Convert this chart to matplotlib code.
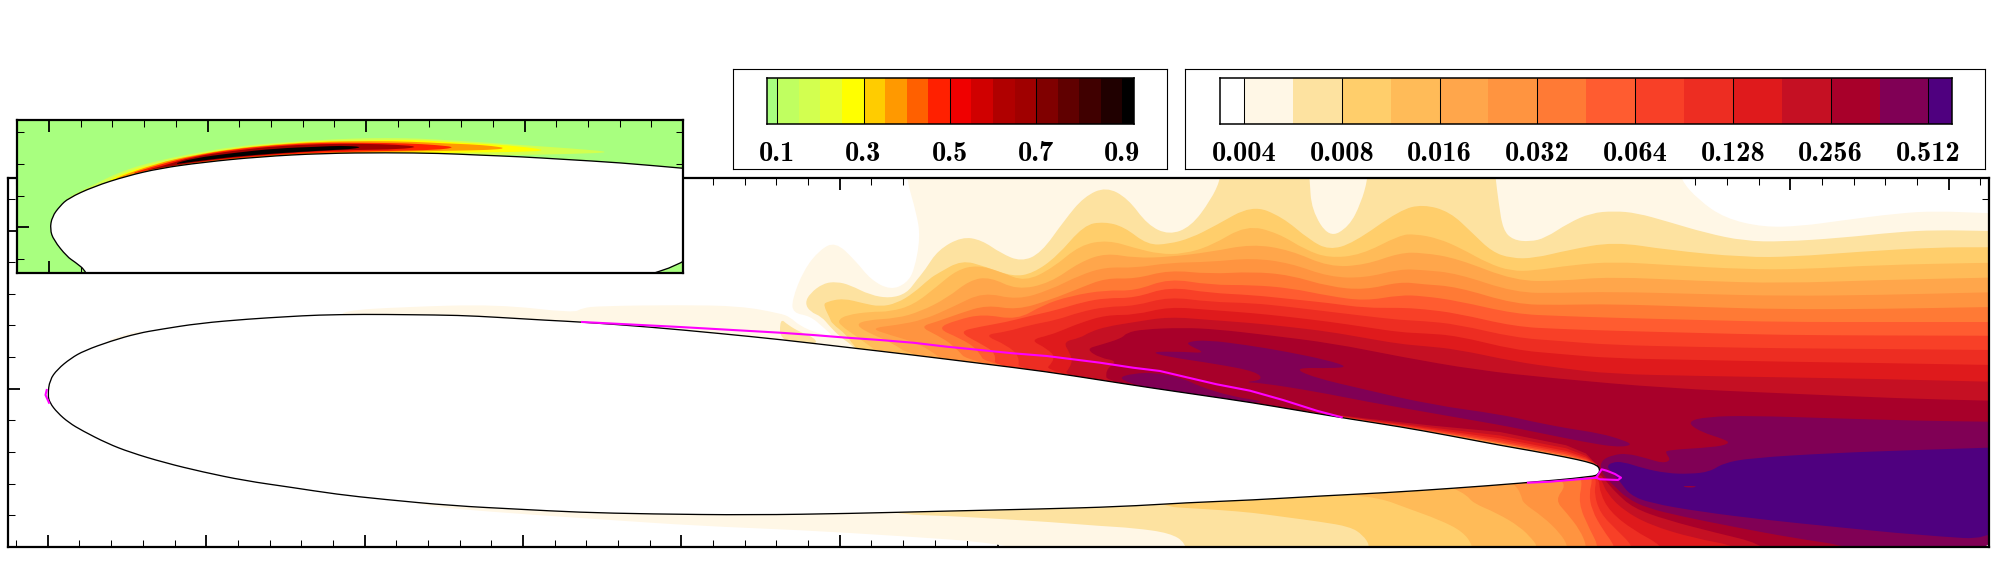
import numpy as np
import matplotlib
matplotlib.use("Agg")
import matplotlib.pyplot as plt
from matplotlib.path import Path
from matplotlib.patches import PathPatch

# ---------- colours and colour-bar data ----------
colorbar_left_edges = [0.075, 0.1, 0.15, 0.2, 0.25, 0.3, 0.35, 0.4, 0.45, 0.5, 0.55, 0.6, 0.65, 0.7, 0.75, 0.8, 0.85, 0.9, 0.927]
colorbar_left_colors = ['#A8FF7F', '#C0FF60', '#D2FF50', '#E8FF30', '#FFFF00', '#FFCC00', '#FF9900', '#FF6000', '#FF2000',
                        '#F00000', '#D00000', '#B00000', '#A00000', '#800000', '#600000', '#400000', '#200000', '#000000']
colorbar_left_ticks = [0.1, 0.3, 0.5, 0.7, 0.9]
colorbar_left_labels = ['0.1', '0.3', '0.5', '0.7', '0.9']

colorbar_right_edges = [0.00338, 0.004, 0.00566, 0.008, 0.0113, 0.016, 0.0226, 0.032, 0.0453, 0.064, 0.0905, 0.128, 0.181, 0.256, 0.362, 0.512, 0.605]
colorbar_right_colors = ['#FFFFFF', '#FFF7E6', '#FDE2A0', '#FFCE6B', '#FFBB58', '#FFA64B', '#FF9440', '#FF7A35', '#FF5C30',
                         '#F84027', '#ED2D22', '#DF1A1C', '#C51023', '#A8002A', '#800055', '#4F007F']
colorbar_right_ticks = [0.004, 0.008, 0.016, 0.032, 0.064, 0.128, 0.256, 0.512]
colorbar_right_labels = ['0.004', '0.008', '0.016', '0.032', '0.064', '0.128', '0.256', '0.512']

# ---------- aerofoil outline and sonic line ----------
airfoil = [(47.8, 395), (49.7, 380), (57.4, 369.3), (70.8, 358.3), (84.2, 350.7), (111, 341), (137.8, 333.3), (160.7, 329.3),
           (199, 323.3), (248.8, 319), (287, 316.7), (317.6, 315), (363.6, 314.3), (409.5, 314.7), (459, 315.3), (497.5, 317.3),
           (547, 320.3), (581.7, 322), (650, 327), (720, 333.5), (780, 339.5), (846.7, 347.3), (913, 355), (980, 363.3),
           (1046.7, 371.7), (1100, 380), (1150, 387.7), (1200, 395), (1250, 402.3), (1300, 410.7), (1350, 419), (1400, 426.7),
           (1450, 435.7), (1500, 445.3), (1533, 451), (1566.7, 457.3), (1586.7, 461.7), (1596.7, 465), (1600, 469.3), (1598.7, 474),
           (1593, 476.7), (1520, 483.3), (1453, 488.3), (1386.7, 492.7), (1320, 496), (1253, 500), (1186.7, 502.7), (1120, 506.7),
           (1040, 509), (950, 511), (850, 513.5), (752, 515), (650, 514), (578, 512.3), (520.5, 509.3), (451.6, 505.7), (382.7, 499.3),
           (336.8, 494.3), (291, 487.3), (245, 480.7), (202.8, 472), (164.6, 462.7), (130, 452.3), (107, 443.3), (82.3, 430.7),
           (68.9, 422.7), (57.4, 412.7), (49.7, 402.7)]
sonic_upper = [(582, 322), (680, 327), (780, 332.7), (813, 335), (846.7, 337.7), (880, 340), (913, 342.7), (946.7, 346.7), (980, 350),
               (1013, 353.3), (1046.7, 356), (1100, 362.7), (1133, 367.7), (1160, 371), (1186.7, 377.3), (1216.7, 384.3), (1250, 390.7),
               (1283, 400), (1316.7, 410.7), (1341.7, 417.3)]
sonic_nose = [(46.7, 390), (45.5, 395), (49, 402.7)]
sonic_rear = [(1528, 482.7), (1550, 481.7), (1590, 478.3), (1596, 477.7), (1600, 479.3), (1618, 480), (1621, 477.7), (1615, 474),
              (1606.7, 470.7), (1601.7, 469.3), (1599, 473.3), (1596, 477.7)]

# ---------- contour regions, lowest level first ----------
level_01 = [(342, 318), (342.5, 310.7), (402, 307), (497.5, 304.3), (574, 313), (581.7, 308), (600, 306), (680, 305), (740, 306),
            (780, 313.3), (790, 317), (800, 326), (817, 333), (835, 338), (823, 327), (810, 316), (793, 313), (791.9, 300), (803.7, 270),
            (819.5, 250), (835.3, 241.7), (855, 260), (871, 280), (890.7, 290), (906.5, 283.3), (914.4, 270), (920.3, 236.7),
            (916.4, 213), (906.5, 179), (906, 160), (1679, 160), (1680, 179), (1698.5, 200), (1725, 218.3), (1763.6, 227.3),
            (1801.8, 226), (1840, 220.7), (1897.5, 213.3), (1935.8, 211), (1988, 213.3), (2010, 213), (2010, 560), (1060, 560),
            (1000, 543), (900, 536), (800, 530), (700, 526), (600, 519.3), (536, 515), (459, 509.3), (413, 504), (413, 496)]
level_01_island = [(105, 341.7), (122.5, 335), (143.5, 330), (143, 336), (110, 345)]
level_02 = [(858, 352), (851.7, 345), (840, 336.7), (830, 326.7), (821.7, 316.7), (810, 311.7), (805, 303), (810, 293.3), (823.3, 283.3),
            (836.7, 281.7), (850, 285), (870, 295), (890, 298.3), (906.7, 293.3), (916.7, 280), (925, 270), (938, 250), (961.8, 236.7),
            (981.6, 240), (1001, 253.3), (1021, 261.7), (1040.9, 253.3), (1064.6, 220), (1084, 196.7), (1106, 186.7), (1127.8, 198.3),
            (1147.6, 225), (1169, 235), (1191, 226.7), (1210.8, 200), (1220.7, 179), (1222, 160), (1308, 160), (1309.6, 179),
            (1311.6, 210), (1329, 238), (1349, 226.7), (1361, 203), (1367.7, 179), (1369, 160), (1494, 160), (1495.7, 179), (1498.7, 203),
            (1503, 230), (1513, 240), (1530, 241.7), (1545.4, 238), (1568.4, 223), (1591, 213), (1614, 211), (1637, 213), (1668, 221.7),
            (1706, 233), (1744.4, 241), (1782.7, 241.7), (1840, 238), (1897.5, 232), (1935.8, 230), (1988, 231), (2010, 231), (2010, 560),
            (1186, 560), (1186, 543), (1170, 533), (1134, 528), (1100, 526), (1050, 522), (1000, 519), (950, 516), (900, 514.5), (880, 508)]
level_02_island = [(780, 318), (788, 325), (800, 332), (815, 338), (817, 345), (780, 342)]
level_03 = [(862, 353), (853, 345), (846.7, 335), (831.7, 323.3), (830, 318.3), (823.3, 305), (826.7, 301.7), (843.3, 298.3), (863.3, 303.3),
            (880, 306.7), (896.7, 303.3), (913.3, 293.3), (930, 278.3), (938, 273.3), (961.8, 260), (985.5, 266.7), (1013, 276.7),
            (1033, 273.3), (1056.7, 256.7), (1084, 225), (1104, 221.7), (1124, 226.7), (1147.6, 245), (1169, 244), (1191, 238), (1214.8, 226),
            (1252, 205), (1282, 216.7), (1309.6, 240), (1329, 250), (1353, 243.3), (1400, 210), (1423, 204.3), (1449.8, 211.7), (1472.7, 233.3),
            (1491.8, 251.7), (1511, 258.3), (1534, 258.3), (1568.4, 250), (1614.3, 241.7), (1668, 250), (1744.4, 257.3), (1794, 256.7),
            (1859, 251.7), (1935.8, 247.3), (1988, 247.3), (2010, 247), (2010, 560), (1370, 560), (1370, 546), (1363, 535), (1350, 526.7),
            (1320, 521.7), (1286.7, 517.3), (1253, 512.7), (1220, 510), (1186.7, 508), (1170, 507), (1150, 500)]
level_04 = [(880, 354), (873, 348.3), (856.7, 336.7), (840, 325), (838.3, 320), (846.7, 315), (870, 311.7), (890, 311.7), (913.3, 305),
            (936.7, 286.7), (956.7, 270), (977.6, 265), (1001, 272), (1025, 281.7), (1052.7, 268), (1080, 245), (1108, 240), (1135.7, 248.3),
            (1159.4, 254), (1183, 254), (1210.8, 246), (1246.4, 225), (1278, 233), (1305.7, 250), (1329, 258), (1361, 255), (1400, 235),
            (1415, 234), (1438, 238.3), (1461, 248.3), (1488, 263.3), (1511, 271), (1534, 270.7), (1572, 265), (1614, 261.7), (1668, 265),
            (1744, 269.3), (1802, 269.3), (1878, 265), (1988, 262.7), (2010, 262.7), (2010, 560), (1473, 560), (1473, 546), (1463, 531.7),
            (1440, 520), (1406.7, 508), (1380, 498), (1346.7, 495), (1330, 488)]
level_05 = [(915, 358), (890, 341.7), (873, 335), (855, 325), (866.7, 320), (896.7, 318.3), (920, 311.7), (946.7, 298.3), (970, 280),
            (990, 277), (1017, 290), (1050, 283), (1080, 262), (1106, 253), (1135, 258), (1169, 257), (1210, 252), (1252, 244), (1290, 250),
            (1329, 267), (1365, 265), (1400, 252.7), (1423, 252.7), (1457, 258.3), (1515, 281), (1560, 281), (1610.5, 276.7), (1700, 281),
            (1782.7, 283.3), (1880, 280), (1988, 277.7), (2010, 277), (2010, 560), (1537, 560), (1537, 546), (1533, 540), (1520, 526.7),
            (1496.7, 513), (1473, 503), (1466.7, 495), (1453, 488.3), (1440, 480)]
level_06 = [(945, 362), (930, 350), (913, 341.7), (890, 335), (870, 328.3), (896.7, 325), (923.3, 320), (953.3, 306.7), (983.3, 292),
            (1017, 300), (1050, 290), (1080, 275), (1106, 267), (1135, 268), (1169, 262.7), (1210, 262), (1252, 258), (1290, 263), (1329, 277),
            (1365, 278), (1400, 269), (1423, 270), (1457, 273.3), (1515, 292.7), (1560, 293), (1610.5, 291.7), (1700, 294), (1782.7, 296),
            (1880, 295), (1988, 292.3), (2010, 292), (2010, 560), (1568, 560), (1568, 546), (1560, 533), (1543, 516.7), (1523, 503),
            (1521.7, 496.7), (1516.7, 486), (1505, 478)]
level_07 = [(972, 366), (953.3, 345), (936.7, 335), (920, 326.7), (936.7, 321.7), (960, 313.3), (986.7, 305), (1017, 310), (1050, 300),
            (1080, 288), (1106, 278), (1135, 279), (1169, 270), (1210, 274), (1252, 271.7), (1290, 275), (1329, 286.7), (1365, 290), (1400, 281.7),
            (1423, 284.3), (1457, 286.7), (1515, 304.3), (1560, 305), (1610.5, 304), (1700, 307), (1782.7, 309.3), (1880, 309), (1988, 307),
            (2010, 307), (2010, 560), (1586.7, 560), (1586.7, 546), (1580, 530), (1566.7, 513), (1555, 500), (1566.7, 485), (1555, 476)]
level_08 = [(988, 368), (976.7, 348.3), (960, 338.3), (936.7, 328.3), (956.7, 320), (983, 314), (1017, 320), (1043, 305), (1070, 296),
            (1106, 290), (1135, 291), (1169, 278.3), (1210, 285), (1252, 285), (1290, 288), (1329, 296), (1365, 301), (1400, 295), (1423, 296),
            (1457, 300.7), (1515, 314), (1560, 316), (1610.5, 317.7), (1700, 320), (1782.7, 322), (1880, 322), (1988, 322), (2010, 322),
            (2010, 560), (1598, 560), (1598, 545), (1590, 530), (1578, 503), (1583, 480), (1575, 470)]
level_09 = [(993, 370), (996.7, 353.3), (980, 343.3), (958.3, 331.7), (980, 326.7), (1006.7, 322), (1030, 316), (1056.7, 310), (1083, 302),
            (1106, 298), (1135, 298), (1169, 286.7), (1210, 293), (1252, 295), (1290, 299), (1329, 303), (1365, 308), (1400, 307.7), (1423, 309),
            (1457, 313.3), (1515, 326.7), (1560, 329), (1610.5, 330.7), (1700, 333), (1782.7, 335), (1880, 335.5), (1988, 335.7), (2010, 336),
            (2010, 560), (1615, 560), (1615, 546), (1603, 530), (1591.7, 510), (1589, 493), (1593, 478), (1585, 470)]
level_10 = [(1017, 373), (1020, 356.7), (1006.7, 345), (983.3, 335), (1006.7, 331.7), (1030, 325), (1056.7, 320), (1080, 312), (1106, 306.7),
            (1135, 306), (1169, 296.7), (1210, 302), (1252, 303), (1290, 307), (1329, 311.7), (1365, 316), (1400, 320), (1423, 321), (1457, 324.3),
            (1515, 337.7), (1560, 341), (1610.5, 345), (1700, 347), (1782.7, 348.3), (1880, 349), (1988, 350), (2010, 350), (2010, 560),
            (1633, 560), (1633, 546), (1616.7, 530), (1600, 513), (1594, 493), (1596.7, 479), (1590, 470)]
level_11 = [(1040, 375), (1056.7, 358.3), (1046.7, 348.3), (1030, 340), (1050, 335), (1063, 330), (1080, 323), (1106, 315), (1135, 315),
            (1169, 306.7), (1210, 310), (1252, 313), (1290, 317), (1329, 321.7), (1365, 327), (1400, 332.3), (1423, 333.3), (1457, 335.7),
            (1515, 350), (1560, 354), (1610.5, 358.3), (1700, 360), (1782.7, 361.7), (1880, 363), (1988, 365), (2010, 365), (2010, 560),
            (1663, 560), (1663, 546), (1633, 530), (1610, 511.7), (1600, 493), (1599, 479), (1592, 470)]
level_12 = [(1060, 380), (1073, 363.3), (1070, 353.3), (1063, 341.7), (1080, 338), (1090, 332), (1106, 326.7), (1135, 322), (1169, 316.7),
            (1210, 320), (1252, 323), (1290, 327), (1329, 331.7), (1365, 338), (1400, 344), (1423, 346), (1457, 349.3), (1515, 361.7), (1560, 368),
            (1610.5, 374), (1700, 376), (1782.7, 377.3), (1880, 379), (1988, 381.7), (2010, 382), (2010, 560), (1740, 560), (1740, 546.7),
            (1693, 538), (1650, 525), (1623, 510), (1606.7, 493), (1601.7, 480), (1594, 470)]
level_13 = [(1108, 385), (1105, 370), (1118, 361), (1100, 358), (1086, 349), (1100, 345), (1121.7, 338.3), (1126.7, 332.7), (1143, 329.3),
            (1183, 327.7), (1216.7, 329.3), (1266.7, 335), (1333, 343.3), (1400, 356.7), (1476.5, 370), (1553, 378.3), (1668, 388.3),
            (1782.7, 393.3), (1897.5, 398.3), (1988, 400.7), (2010, 401), (2010, 560), (1775, 560), (1760, 543.3), (1716.7, 533),
            (1666.7, 520), (1633, 508), (1615, 491.7), (1606.7, 481.7), (1596, 470)]
level_14_wake = [(1686.7, 421.7), (1706.7, 416.7), (1750, 415.7), (1833, 418.3), (1916.7, 420.7), (1988, 421.7), (2010, 422), (2010, 560),
                 (1853, 560), (1853, 546.7), (1793, 538), (1733, 526.7), (1683, 516.7), (1646.7, 508), (1626.7, 498), (1615, 486.7), (1608, 480),
                 (1600, 470), (1601.7, 460), (1613, 455), (1626.7, 453.3), (1646.7, 458.3), (1663, 463.3), (1671, 460), (1665.7, 453.3),
                 (1666.7, 450), (1713, 447.3), (1729, 444), (1726.7, 440), (1700, 431.7)]
level_14_shear = [(1188, 341.7), (1206.7, 340), (1246.7, 345), (1286.7, 351.7), (1326.7, 360), (1348, 366.7), (1333, 368.3), (1293, 367.7),
                  (1313, 377.3), (1366.7, 390), (1433, 405), (1500, 414.3), (1533, 421.7), (1566.7, 428.3), (1600, 433.3), (1623, 440), (1633, 445),
                  (1616.7, 447.3), (1583, 441.7), (1550, 435), (1516.7, 428.3), (1500, 425), (1433, 413.3), (1366.7, 401.7), (1316.7, 391.7),
                  (1260, 382.7), (1243, 382.3), (1263, 380), (1256.7, 371.7), (1216.7, 364), (1166.7, 356.7), (1150, 351.7), (1183, 351.7),
                  (1206.7, 353.3), (1188, 345)]
level_14_wall = [(1116.7, 378.3), (1133, 373.3), (1156.7, 372.7), (1183, 378.3), (1200, 386.7), (1233, 396.7), (1266.7, 401.7), (1246.7, 403),
                 (1210, 398), (1166.7, 391), (1143, 387)]
level_15 = [(1606.7, 466.7), (1611.7, 462.3), (1623, 461.7), (1643, 468.3), (1666.7, 473.3), (1690, 474), (1710, 471.7), (1723, 463.3),
            (1750, 458), (1833, 453), (1916.7, 450), (1988, 447.7), (2010, 447), (2010, 541), (1916.7, 535), (1833, 526.7), (1766.7, 520),
            (1700, 511.7), (1650, 503), (1630, 495), (1620, 481.7), (1612, 472)]
wake_sliver = [(1681, 486.5), (1690, 486), (1698, 486.7), (1690, 487.7)]

# thin boundary layer on the rear upper surface, outermost first
wall_x = [1300, 1367, 1433, 1500, 1566, 1586, 1597]
wall_C51023 = [410.2, 418.6, 425.7, 432, 445.2, 453.5, 465]
wall_DF1A1C = [410.3, 419.6, 427.7, 435.5, 448.2, 455.8, 465]
wall_ED2D22 = [410.7, 420.1, 429.2, 438.3, 450.9, 457.5, 465]
wall_F84027 = [410.7, 420.6, 430.2, 440.3, 452.5, 458.8, 465]
wall_FF5C30 = [410.7, 420.9, 431.2, 442, 454.2, 459.8, 465]
wall_FF9440 = [410.7, 421.2, 431.9, 443.3, 455.9, 460.8, 465]

# ---------- inset: leading-edge band ----------
inset_surface = [(75, 262), (67, 256.7), (53.6, 240), (50, 229.3), (52, 216.7), (60, 206), (68.3, 198.3), (93.3, 186.7), (126.7, 176), (160, 168.3),
                 (203, 162.3), (260, 156.7), (323, 153.3), (386.7, 152.7), (440, 153.3), (476.7, 155), (520, 156.7), (563, 159.3), (620, 162.7),
                 (683, 168.3), (705, 170), (705, 295), (92, 295), (87, 271.7)]
inset_fringe = [(62, 205), (68.3, 197), (93.3, 185), (120, 171.7), (153.3, 161.7), (193.3, 153.3), (233.3, 146.7), (276.7, 142.7), (320, 140),
                (353, 138.5), (386.7, 138), (420, 138.5), (453, 140.5), (486.7, 142.5), (520, 145), (570, 148.3), (616.7, 152.3), (570, 154),
                (520, 155), (486.7, 155), (440, 155), (386.7, 155), (320, 156), (260, 159), (203, 165), (160, 171), (126.7, 179), (93.3, 190)]
inset_yellow = [(103, 183), (126.7, 171.7), (156.7, 163.3), (193, 155), (233, 148.3), (276.7, 144), (320, 141), (353, 140.7), (386.7, 140),
                (420, 140), (453, 142.3), (486.7, 144), (516.7, 146), (550, 150.5), (516.7, 152), (470, 152.5), (386.7, 154), (320, 155), (260, 158),
                (203, 164), (160, 170), (126.7, 177.5)]
inset_orange = [(110, 180), (156.7, 163.3), (193, 155.3), (233, 148.7), (276.7, 144.3), (320, 141.7), (370, 141), (413, 141.7), (443, 143.3),
                (470, 144.3), (493, 146), (506.7, 148.3), (490, 150), (453, 150.7), (386.7, 152), (320, 154), (260, 157.5), (203, 163), (160, 169),
                (126.7, 176.5)]
inset_red = [(123, 176), (160, 164.3), (193, 156), (233, 149.3), (276.7, 145), (320, 142.7), (363, 142.7), (406.7, 143.3), (436.7, 145), (456.7, 147.3),
             (436.7, 150), (386.7, 151), (320, 152.5), (260, 156), (203, 161.5), (160, 167.5)]
inset_dark = [(143, 170.7), (160, 166.7), (193, 156.7), (233, 150.7), (276.7, 146), (320, 144), (363, 143.7), (396.7, 144.7), (420, 146.7), (400, 149.3),
              (353, 150), (320, 151), (276.7, 154), (233, 157.5), (193, 162.5), (160, 168)]
inset_black = [(170, 165), (193, 158.3), (233, 153), (276.7, 148.3), (320, 146.7), (340, 145.7), (363, 146.7), (353, 149), (333, 150), (320, 150.7),
               (276.7, 153.3), (233, 156.7), (193, 161.7)]
inset_layers = [(inset_fringe, '#D2FF50'), (inset_yellow, '#FFFF00'), (inset_orange, '#FF9900'), (inset_red, '#FF2000'),
                (inset_dark, '#A00000'), (inset_black, '#000000')]

# ---------- axis tick positions (the axes carry no labels) ----------
main_x_major = [47.8 + 158.4 * k for k in range(13)]
main_x_minor = [16.1 + 31.68 * k for k in range(63) if k % 5 != 1]
main_y_major = [230.5, 389]
main_y_minor = [199, 262, 294, 325, 357, 420, 452, 484, 515]
inset_x_major = [49, 207.5, 366, 524.5]
inset_x_minor = [49 + 31.7 * k for k in range(20) if k % 5 != 0]
inset_y_major = [227]
inset_y_minor = [132.3, 164.3, 196.3, 259.3]

# ---------- drawing ----------
W, H = 2000, 582
fig = plt.figure(figsize=(W / 100, H / 100), dpi=100, facecolor='white')


def place(left, top, right, bottom, **kw):
    return fig.add_axes([left / W, 1 - bottom / H, (right - left) / W, (bottom - top) / H], **kw)


def smooth(points):
    pts = np.asarray(points, float)
    mids = (pts + np.roll(pts, -1, axis=0)) / 2
    verts, codes = [mids[-1]], [Path.MOVETO]
    for i in range(len(pts)):
        verts += [pts[i], mids[i]]
        codes += [Path.CURVE3, Path.CURVE3]
    return Path(np.array(verts), codes)


def fill(ax, points, color, z):
    ax.add_patch(PathPatch(smooth(points), facecolor=color, edgecolor='none', lw=0, zorder=z))


def frame(ax, xmaj, xmin, ymaj, ymin):
    ax.set_xticks(xmaj)
    ax.set_xticks(xmin, minor=True)
    ax.set_yticks(ymaj)
    ax.set_yticks(ymin, minor=True)
    ax.tick_params(which='major', direction='in', top=True, right=True, length=8.6, width=1.3,
                   labelbottom=False, labelleft=False)
    ax.tick_params(which='minor', direction='in', top=True, right=True, length=4.8, width=0.75)
    for s in ax.spines.values():
        s.set_linewidth(1.6)
        s.set_zorder(20)


field_colors = colorbar_right_colors[1:]
main = place(8, 177.5, 1988.5, 546.7)
main.set_xlim(8, 1988.5)
main.set_ylim(546.7, 177.5)
levels = [level_01, level_02, level_03, level_04, level_05, level_06, level_07, level_08, level_09, level_10,
          level_11, level_12, level_13, level_14_wake, level_15]
for i, (pts, col) in enumerate(zip(levels, field_colors)):
    fill(main, pts, col, 2 + i * 0.1)
fill(main, level_01_island, field_colors[0], 2.05)
fill(main, level_02_island, field_colors[1], 2.15)
fill(main, level_14_shear, field_colors[13], 3.6)
fill(main, level_14_wall, field_colors[13], 3.6)
fill(main, wake_sliver, field_colors[12], 3.7)
for z, (ys, col) in enumerate([(wall_C51023, '#C51023'), (wall_DF1A1C, '#DF1A1C'), (wall_ED2D22, '#ED2D22'),
                               (wall_F84027, '#F84027'), (wall_FF5C30, '#FF5C30'), (wall_FF9440, '#FF9440')]):
    main.fill(wall_x, ys, color=col, lw=0, zorder=4 + z * 0.1)
main.add_patch(PathPatch(smooth(airfoil), facecolor='white', edgecolor='black', lw=0.95, zorder=6))
for line in (sonic_upper, sonic_nose, sonic_rear):
    a = np.array(line)
    main.plot(a[:, 0], a[:, 1], color='#FF00FF', lw=1.5, zorder=7, solid_joinstyle='round')
frame(main, main_x_major, main_x_minor, main_y_major, main_y_minor)

inset = place(17, 120, 683, 272.7)
inset.set_facecolor('#A8FF7F')
inset.set_zorder(5)
inset.set_xlim(17, 683)
inset.set_ylim(272.7, 120)
for i, (pts, col) in enumerate(inset_layers):
    fill(inset, pts, col, 2 + i * 0.1)
inset.add_patch(PathPatch(smooth(inset_surface), facecolor='white', edgecolor='black', lw=0.95, zorder=6))
frame(inset, inset_x_major, inset_x_minor, inset_y_major, inset_y_minor)


def legend_box(left, top, right, bottom):
    box = place(left, top, right, bottom)
    box.set_xticks([])
    box.set_yticks([])
    for s in box.spines.values():
        s.set_linewidth(0.8)


def colorbar(left, right, edges, colors, ticks, labels, log):
    ax = place(left, 78.3, right, 124.3)
    ax.set_zorder(4)
    if log:
        ax.set_xscale('log', base=2)
    for lo, hi, c in zip(edges[:-1], edges[1:], colors):
        ax.axvspan(lo, hi, color=c, lw=0, zorder=1)
    ax.set_xlim(edges[0], edges[-1])
    ax.set_ylim(0, 1)
    ax.vlines(ticks, 0, 1, color='black', lw=0.75, zorder=2)
    ax.minorticks_off()
    ax.set_yticks([])
    ax.set_xticks(ticks)
    ax.set_xticklabels(labels, family='cmb10', fontsize=20.5)
    ax.tick_params(axis='x', length=0, pad=12, which='both')
    for s in ax.spines.values():
        s.set_linewidth(1.1)


legend_box(733, 69.3, 1167, 169)
legend_box(1184.5, 69.3, 1985, 169)
colorbar(766.5, 1134, colorbar_left_edges, colorbar_left_colors, colorbar_left_ticks, colorbar_left_labels, False)
colorbar(1220.4, 1952, colorbar_right_edges, colorbar_right_colors, colorbar_right_ticks, colorbar_right_labels, True)

fig.savefig('out.png', dpi=100, facecolor='white')
